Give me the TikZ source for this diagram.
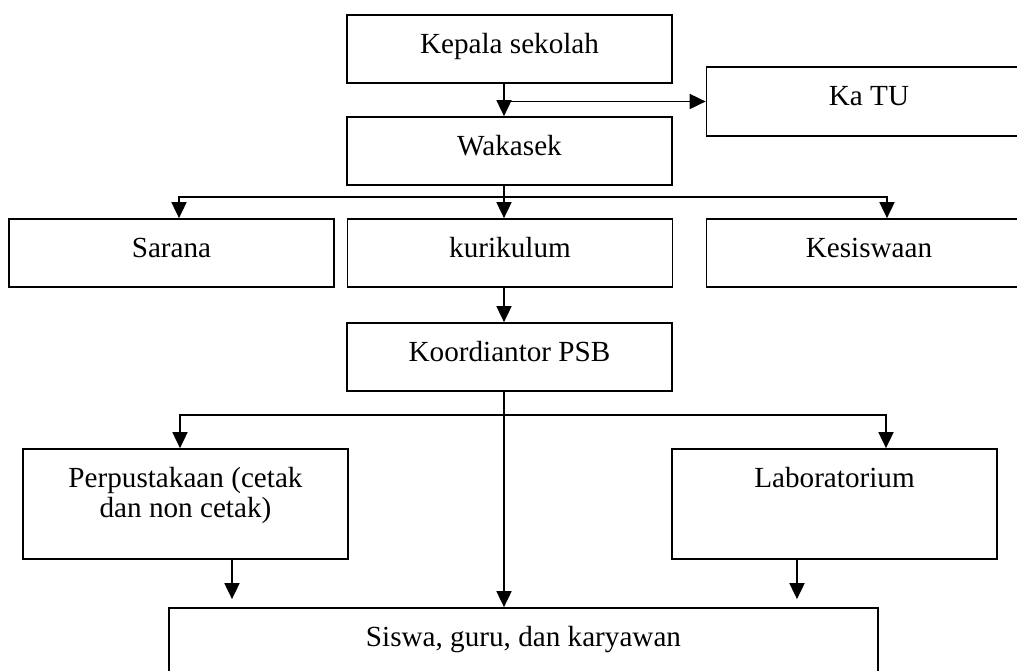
\documentclass[tikz,border=0pt]{standalone}
\usepackage{fontspec}
\setmainfont{Liberation Serif}
\usetikzlibrary{positioning, arrows.meta}

\begin{document}
\begin{tikzpicture}[x=0.02cm, y=-0.02cm,
  box/.style={draw, line width=1pt, inner sep=0pt, minimum width=6.5cm,
    text height=0.76cm, text depth=0.6cm, align=center,
    font=\fontsize{16.6}{17}\selectfont},
  arr/.style={line width=1pt, -{Triangle[length=0.32cm, width=0.3cm]}}]
\useasboundingbox (0,0) rectangle (1017,670);
\node[box] (kepala) at (509.5,49) {Kepala sekolah};
\node[box, text depth=0.62cm] (katu) at (869,101.5) {Ka TU};
\node[box] (wakasek) at (509.5,151) {Wakasek};
\node[box] (sarana) at (171.5,253) {Sarana};
\node[box] (kurikulum) at (510,253) {kurikulum};
\node[box] (kesiswaan) at (869,253) {Kesiswaan};
\node[box] (koord) at (509.5,357) {Koordiantor PSB};
\node[box, text height=1.36cm, text depth=0.84cm] (perpus) at (185.5,504) {Perpustakaan (cetak\\dan non cetak)};
\node[box, text depth=1.44cm] (lab) at (834.5,504) {Laboratorium};
\node[box, minimum width=14.18cm, text depth=1.04cm] (siswa) at (523.5,653) {Siswa, guru, dan karyawan};
\coordinate (spine) at (504,0);
\coordinate (bus1) at (504,197);
\coordinate (bus2) at (504,415);
\draw[arr] (kepala.south -| spine) -- (wakasek.north -| spine);
\draw[arr] (spine |- katu.west) -- (katu.west);
\draw[arr] (wakasek.south -| spine) -- (kurikulum.north -| spine);
\draw[arr] (bus1) -| ([xshift=0.15cm]sarana.north);
\draw[arr] (bus1) -| ([xshift=0.36cm]kesiswaan.north);
\draw[arr] (kurikulum.south -| spine) -- (koord.north -| spine);
\draw[arr] (koord.south -| spine) -- (siswa.north -| spine);
\draw[arr] (bus2) -| ([xshift=-0.11cm]perpus.north);
\draw[arr] (bus2) -| ([xshift=1.03cm]lab.north);
\draw[arr, shorten >=0.16cm] ([xshift=0.93cm]perpus.south) -- ([xshift=0.93cm]perpus.south |- siswa.north);
\draw[arr, shorten >=0.16cm] ([xshift=-0.75cm]lab.south) -- ([xshift=-0.75cm]lab.south |- siswa.north);
\end{tikzpicture}
\end{document}
